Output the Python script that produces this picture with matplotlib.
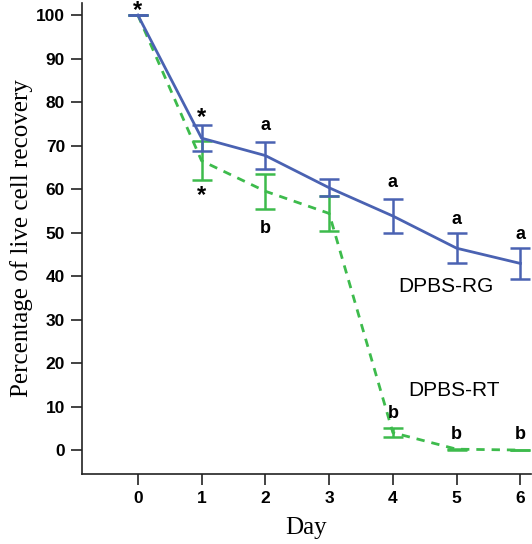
import matplotlib.pyplot as plt
import numpy as np

# Data
days = [0, 1, 2, 3, 4, 5, 6]
rg_mean = [100, 71.7, 67.7, 60.3, 53.8, 46.4, 42.9]
rg_err = [0, 3.0, 3.2, 2.0, 4.0, 3.4, 3.5]
rt_mean = [100, 66.5, 59.5, 54.4, 4.0, 0.2, 0.0]
rt_err = [0, 4.5, 4.0, 4.0, 1.0, 0.1, 0.0]

# significance letters: (x, y, text)
rg_marks = [(0, 101.0, '*'), (1, 76.5, '*'), (2, 74.5, 'a'), (4, 61.5, 'a'), (5, 53.0, 'a'), (6, 49.5, 'a')]
rt_marks = [(1, 58.5, '*'), (2, 51.0, 'b'), (4, 8.5, 'b'), (5, 3.5, 'b'), (6, 3.5, 'b')]

blue = '#4a62b2'
green = '#3dbb4c'

fig = plt.figure(figsize=(5.32, 5.44), dpi=100)
ax = fig.add_axes([0.1536, 0.1287, 0.845, 0.866])

ax.plot(days, rg_mean, color=blue, lw=2, zorder=3)
ax.errorbar(days, rg_mean, yerr=rg_err, fmt='none', ecolor=blue, elinewidth=1.8,
            capsize=7, capthick=1.8, zorder=3)
ax.plot(days, rt_mean, color=green, lw=2, ls=(0, (3, 2.5)), zorder=2)
ax.errorbar(days, rt_mean, yerr=rt_err, fmt='none', ecolor=green, elinewidth=1.8,
            capsize=7, capthick=1.8, zorder=2)

for x, y, t in rg_marks + rt_marks:
    size = 17 if t == '*' else 13
    ax.text(x, y, t, ha='center', va='center', fontsize=size, fontweight='bold',
            family='Liberation Sans')

ax.text(4.83, 37.5, 'DPBS-RG', ha='center', va='center', fontsize=15, family='Liberation Sans')
ax.text(4.96, 13.8, 'DPBS-RT', ha='center', va='center', fontsize=15, family='Liberation Sans')

ax.set_xlim(-0.88, 6.17)
ax.set_ylim(-5.5, 102.8)
ax.set_xticks(days)
ax.set_yticks(np.arange(0, 101, 10))
ax.spines['top'].set_visible(False)
ax.spines['right'].set_visible(False)
for s in ['left', 'bottom']:
    ax.spines[s].set_linewidth(1.2)
    ax.spines[s].set_color('#222222')
ax.tick_params(length=8, width=1.2, color='#222222', labelsize=12.5, pad=4)
for lab in ax.get_xticklabels() + ax.get_yticklabels():
    lab.set_fontweight('bold')
    lab.set_family('Liberation Sans')

ax.set_xlabel('Day', fontsize=18, family='Liberation Serif', labelpad=8)
ax.set_ylabel('Percentage of live cell recovery', fontsize=18, family='Liberation Serif', labelpad=2)

plt.savefig('out.png')
